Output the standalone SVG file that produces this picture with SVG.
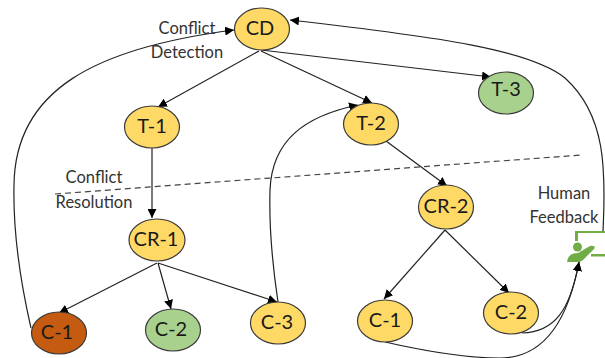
<svg xmlns="http://www.w3.org/2000/svg" width="605" height="358" viewBox="0 0 605 358">
<style>
.y{fill:#ffd966}.g{fill:#a9d18e}.o{fill:#c55a11}
ellipse{stroke:#3a3a3a;stroke-width:1.2}
.n{font:20px Lato,"Liberation Sans",sans-serif;fill:#1a1a1a;text-anchor:middle}
.l{font:16.500px Lato,"Liberation Sans",sans-serif;fill:#333;text-anchor:middle}
#connectors path{fill:none;stroke:#222;stroke-width:1.2}
.a{marker-end:url(#ah)}
</style>
<defs><marker id="ah" markerUnits="userSpaceOnUse" markerWidth="10" markerHeight="9" refX="9" refY="4.5" orient="auto"><path d="M0 0L9 4.5L0 9z" fill="#000"/></marker></defs>
<rect width="605" height="358" fill="#fff"/>
<g id="connectors">
<path class="a" d="M259 51L158 107"/>
<path class="a" d="M261 51L372 103"/>
<path class="a" d="M261 50L491 77"/>
<path class="a" d="M152 148V218"/>
<path class="a" d="M386 141L447 186"/>
<path class="a" d="M157 263L59 313"/>
<path class="a" d="M158 263L171 309"/>
<path class="a" d="M158 263L277 302"/>
<path class="a" d="M445 230L384 299"/>
<path class="a" d="M445 230L509 293"/>
<path class="a" d="M278 302C272 262 269 225 270 190C272 140 305 116 358 105"/>
<path class="a" d="M31 328C20 280 13 230 14 185C15 90 95 48 234 30"/>
<path class="a" d="M522 333C555 332 570 310 579 262"/>
<path class="a" d="M385 342C420 350 465 358 500 358C550 358 570 310 579 262"/>
<path class="a" d="M603 231C606 170 606 115 565 78C530 50 440 37 290 20"/>
<path stroke-dasharray="6 4" style="stroke:#444" d="M55 194L581 155"/>
</g>
<g id="CD"><ellipse class="y" cx="262" cy="29" rx="27.500" ry="21"/><text class="n" x="260" y="35">CD</text></g>
<g id="T-1"><ellipse class="y" cx="152" cy="127" rx="27.500" ry="21"/><text class="n" x="152" y="133">T-1</text></g>
<g id="T-2"><ellipse class="y" cx="371" cy="124" rx="27.500" ry="21"/><text class="n" x="371" y="130">T-2</text></g>
<g id="T-3"><ellipse class="g" cx="506" cy="93" rx="27.500" ry="21"/><text class="n" x="506" y="96">T-3</text></g>
<g id="CR-1"><ellipse class="y" cx="157" cy="240" rx="28" ry="21"/><text class="n" x="156" y="246">CR-1</text></g>
<g id="CR-2"><ellipse class="y" cx="446" cy="207" rx="27.500" ry="22"/><text class="n" x="446" y="213">CR-2</text></g>
<g id="C-1a"><ellipse class="o" cx="59" cy="333" rx="27.500" ry="21"/><text class="n" x="57" y="339">C-1</text></g>
<g id="C-2a"><ellipse class="g" cx="173" cy="330" rx="27.500" ry="21"/><text class="n" x="171" y="336">C-2</text></g>
<g id="C-3"><ellipse class="y" cx="278" cy="323" rx="27.500" ry="21"/><text class="n" x="277" y="329">C-3</text></g>
<g id="C-1b"><ellipse class="y" cx="385" cy="321" rx="27.500" ry="21"/><text class="n" x="385" y="327">C-1</text></g>
<g id="C-2b"><ellipse class="y" cx="511" cy="313" rx="27.500" ry="21"/><text class="n" x="511" y="319">C-2</text></g>
<g id="labels">
<text class="l" x="187" y="34">Conflict</text><text class="l" x="187" y="58">Detection</text>
<text class="l" x="94" y="183">Conflict</text><text class="l" x="94" y="208">Resolution</text>
<text class="l" x="564" y="199">Human</text><text class="l" x="564" y="223">Feedback</text>
</g>
<g id="human-feedback" fill="#70ad47">
<path d="M575 241V231H605V233H578V241z"/>
<circle cx="577.500" cy="247" r="4.500"/>
<path d="M567 262C568 255 572 253 578 253L590 246C594 245 596 247 594 249L583 260L580 262z"/>
<rect x="591" y="254" width="14" height="2.500"/>
</g>
</svg>
